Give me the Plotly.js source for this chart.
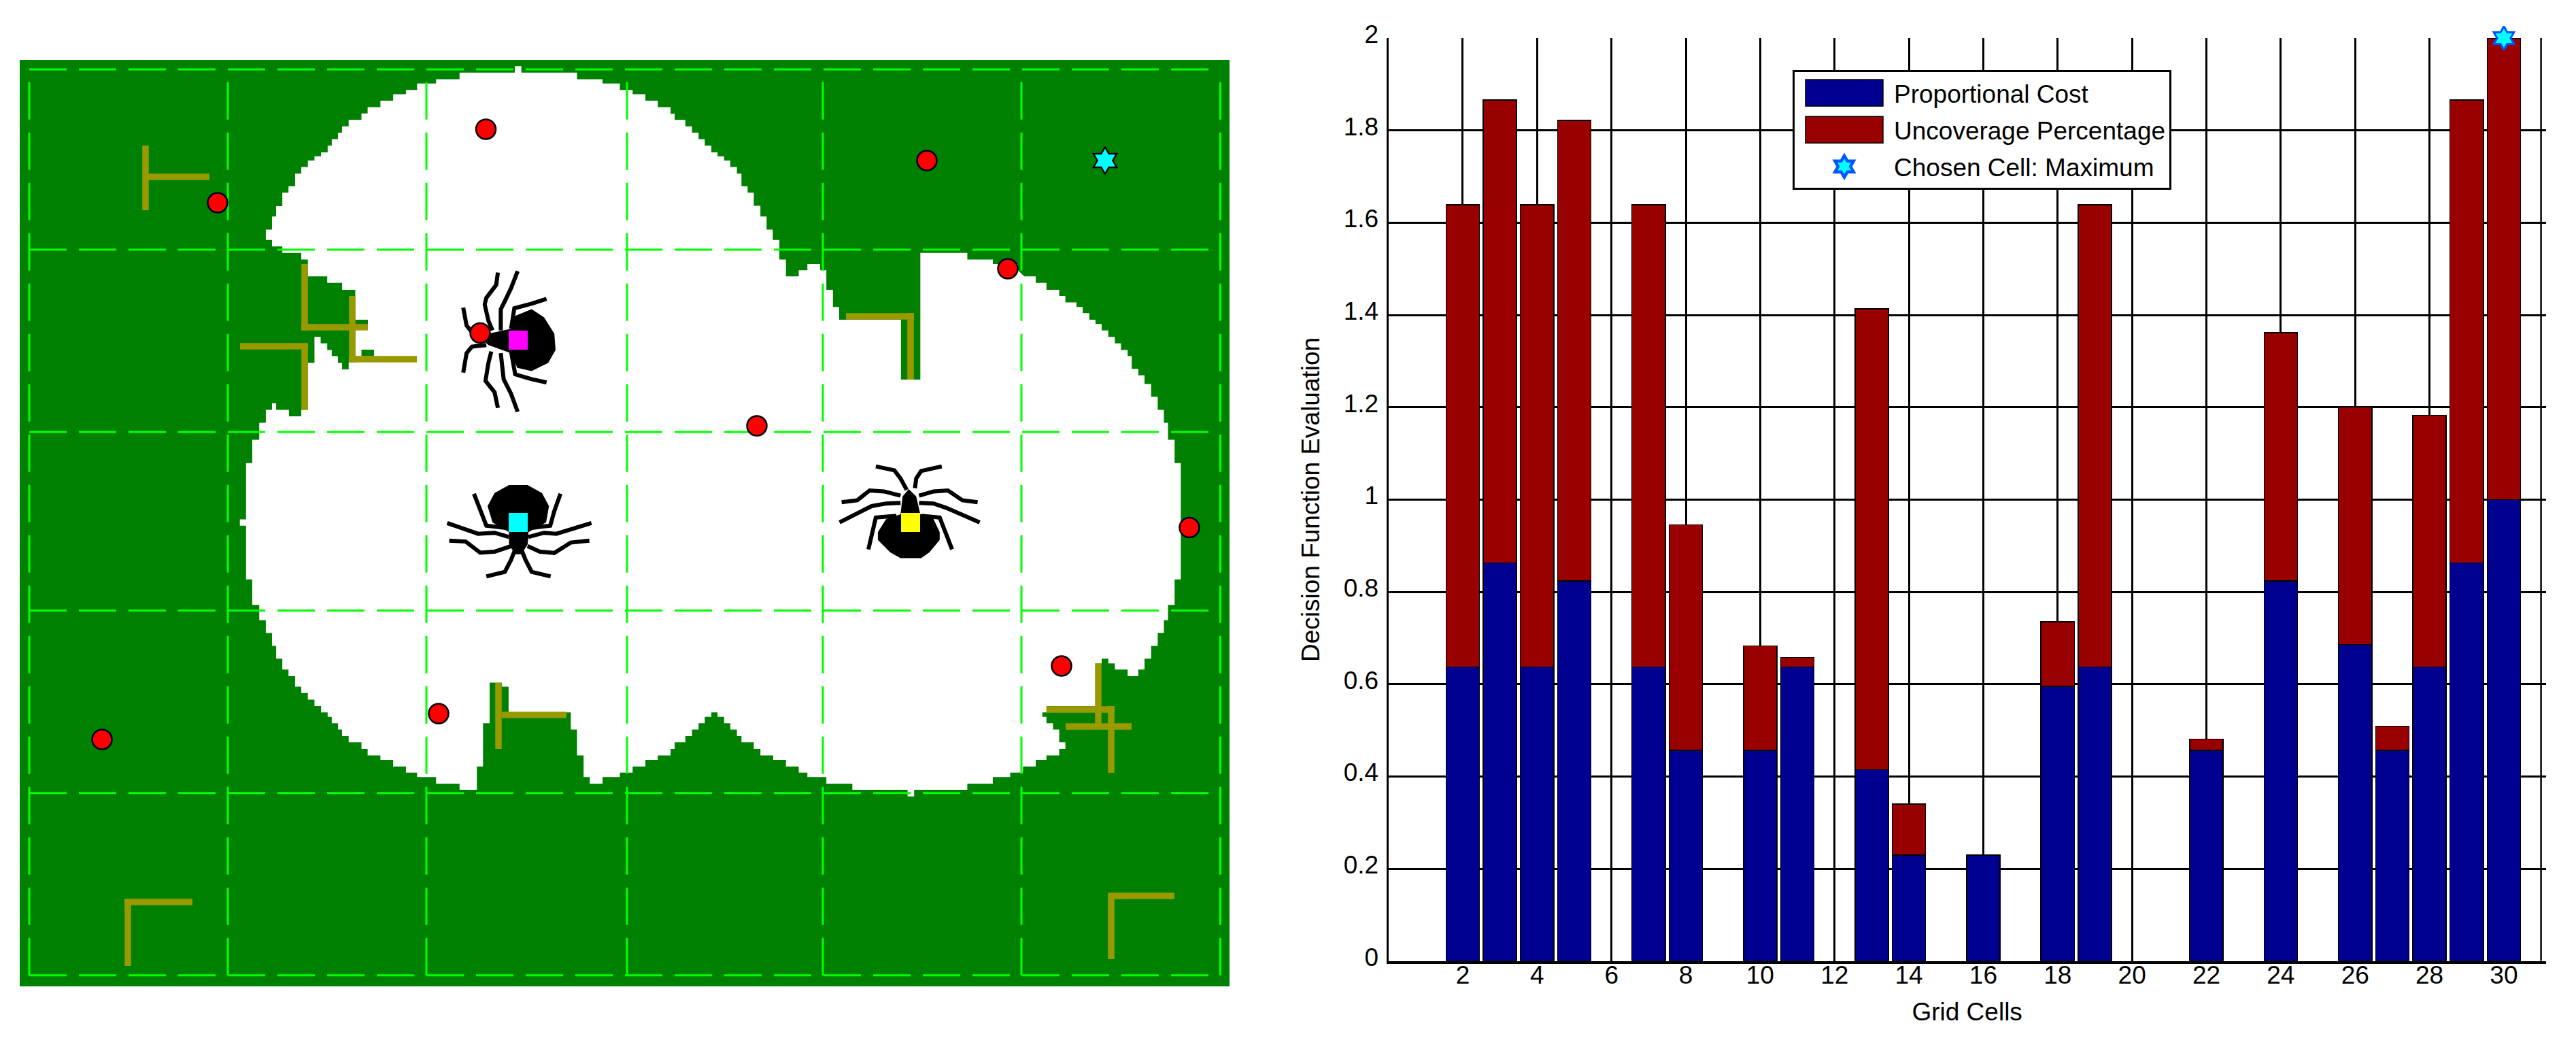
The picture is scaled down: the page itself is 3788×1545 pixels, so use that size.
<!DOCTYPE html>
<html><head><meta charset="utf-8">
<script src="https://cdn.plot.ly/plotly-3.0.1.min.js"></script>
<style>html,body{margin:0;padding:0;background:#fff}#c{width:3788px;height:1545px}</style>
</head><body><div id="c"></div>
<script>
// ---- bar chart data ----
const cells = [2,3,4,5,7,8,10,11,13,14,16,18,19,22,24,26,27,28,29,30];
const proportionalCost = [.637,.863,.637,.824,.637,.457,.457,.637,.415,.23,.23,.595,.637,.457,.824,.686,.457,.637,.863,1];
const uncoverage = [1.002,1.003,1.002,.998,1.002,.488,.226,.021,.998,.11,0,.14,1.002,.024,.538,.514,.052,.546,1.003,1];
const chosenCell = [30], chosenValue = [2];
const xTicks = [2,4,6,8,10,12,14,16,18,20,22,24,26,28,30];
const yTicks = [0,.2,.4,.6,.8,1,1.2,1.4,1.6,1.8,2];
const yTickText = ['0','0.2','0.4','0.6','0.8','1','1.2','1.4','1.6','1.8','2'];

// ---- map data: map units ----
const gridX = [43,335,627,922,1210,1502,1794.5];
const gridY = [102,367,635,897.5,1165.7,1433.8];
const robotsX = [714.5,320,706,1363,1482,1113,1749,150,645,1561];
const robotsY = [190,298,489.5,236,395,626,775.5,1087,1049,979];
const targetX = [1625], targetY = [236];
const magentaX=[762], magentaY=[500], cyanX=[762], cyanY=[768], yellowX=[1339], yellowY=[768];
const wallX = [214,214,null,217,308,null,448,448,null,443,541,null,518,518,null,513,613,null,353,453,null,448,448,null,1244,1344,null,1339,1339,null,733,733,null,738,833,null,188,188,null,183,283,null,1539,1639,null,1634,1634,null,1615,1615,null,1567,1664,null,1634,1634,null,1630,1727];
const wallY = [214,309,null,260,260,null,388,486,null,481,481,null,435,533,null,528,528,null,509,509,null,505,602,null,465,465,null,460,558,null,1004,1101,null,1051,1051,null,1322,1420,null,1326,1326,null,1043,1043,null,1038,1136,null,975,1072,null,1068,1068,null,1313,1410,null,1317,1317];

const coverUL = [645,612,645,580,660,580,660,540,670,540,670,508,685,508,685,467,700,467,700,447,716,447,716,408,731,408,731,388,747,388,747,368,763,368,763,355,779,355,779,343,795,343,795,322,805,322,805,302,820,302,820,282,830,282,830,263,846,263,846,243,877,243,877,223,892,223,892,204,923,204,923,184,954,184,954,164,985,164,985,151,1012,151,1012,131,1058,131,1058,118,1115,118,1115,98,1249,98,1249,78,1265,78,1265,98,1400,98,1400,118,1462,118,1462,131,1504,131,1504,151,1535,151,1535,164,1566,164,1566,184];
const coverUR = [80,184,111,184,111,204,142,204,142,224,152,224,152,243,178,243,178,263,194,263,194,282,210,282,210,302,225,302,225,322,241,322,241,343,256,343,256,355,272,355,272,368,287,368,287,388,303,388,303,408,314,408,314,447,329,447,329,467,344,467,344,507,360,507,360,540,375,540,375,580,390,580,390,612,406,612,406,672,422,672,422,724,453,724,453,705,474,705,474,686,505,686,505,705,520,705,520,765,536,765,536,818,551,818,551,857,701,857,701,1041,748,1041,748,652,862,652,862,672,924,672,924,686,985,686,985,705,1000,724,1028,724,1028,744,1054,744,1054,765,1085,765,1085,784,1100,784,1100,804,1127,804,1127,818,1142,818,1142,837,1158,837,1158,857,1173,857,1173,870,1188,870,1188,890,1204,890,1204,910,1220,910,1220,930,1235,930,1235,950,1251,950,1251,969,1261,969,1261,1008,1277,1008,1277,1028,1292,1028,1292,1055,1308,1055,1308,1094,1324,1094,1324,1134,1339,1134,1339,1174,1349,1174,1349,1226,1365,1226,1365,1298,1380,1298];
const coverLR = [1380,156,1365,156,1365,238,1349,238,1349,287,1339,287,1339,328,1324,328,1324,369,1308,369,1308,410,1292,410,1292,445,1277,445,1277,466,1251,466,1251,445,1220,445,1220,425,1204,425,1204,410,1188,410,1188,425,1173,425,1173,562,1054,562,1054,582,1044,582,1044,596,1054,596,1054,617,1070,617,1070,637,1085,637,1085,678,1100,678,1100,699,1085,699,1085,720,1054,720,1054,734,1028,734,1028,755,997,755,997,775,966,775,966,789,924,789,924,810,862,810,862,830,733,830,733,851,717,851,717,830,583,830,583,810,520,810,520,789,474,789,474,775,453,775,453,755,422,755,422,734,391,734,391,720,360,720,360,699,344,699,344,678,314,678,314,658,303,658,303,637,287,637,287,617,272,617,272,596,256,596,256,582,241,582,241,596,225,596,225,617,210,617,210,637,194,637,194,658,178,658,178,678,152,678,152,699,142,699,142,720,111,720,111,734,81,734];
const coverLL = [1566,755,1535,755,1535,775,1504,775,1504,789,1462,789,1462,810,1431,810,1431,789,1416,789,1416,720,1400,720,1400,637,1385,637,1385,582,1234,582,1234,500,1218,500,1218,487,1188,487,1188,617,1172,617,1172,755,1157,755,1157,830,1115,830,1115,810,1058,810,1058,789,1012,789,1012,775,985,775,985,755,954,755,954,734,923,734,923,720,892,720,892,699,877,699,877,678,846,678,846,658,830,658,830,637,820,637,820,617,805,617,805,596,795,596,795,582,779,582,779,562,763,562,763,541,747,541,747,520,731,520,731,500,716,500,716,466,700,466,700,445,685,445,685,410,670,410,670,369,660,369,660,328,645,328,645,287,629,287,629,238,612,238,612,156,597,156];
const coverUL2 = [597,1490,582,1490,582,1471,597,1471,597,1298,612,1298,612,1226,629,1226,629,1174,645,1174,645,1134,660,1134,660,1114,670,1114,670,1134,701,1134,701,1154,731,1154,731,1134,747,1134,747,990,763,990,763,910,778,910,778,930,794,930,794,950,805,950,805,969,820,969,820,990,830,990,830,1010,846,1010,846,988,862,988,862,765,830,765,830,744,794,744,794,724,747,724,747,672,731,672,731,652,685,652,685,632,660,632,660,612,645,612];
const patchX = [522,541,541,522,522,null,531.5,550,550,531.5,531.5];
const patchY = [470,470,481,481,470,null,514,514,523.5,523.5,514];

const spiderA_body = [1240,885,1250,845,1290,825,1320,850,1345,900,1348,950,1330,990,1290,1015,1255,1005,1240,960,1185,935,1170,918,1185,900,1240,885];
const spiderA_legs = [[1208,712,1204,750,1180,790,1176,810,1185,860,1195,890],[1256,708,1240,760,1225,800,1215,825,1215,890],[1326,793,1290,808,1248,822,1240,885],[1124,820,1132,875,1145,895,1180,900],[1124,1020,1132,960,1145,940,1180,935],[1208,1128,1200,1080,1178,1045,1185,990,1192,955],[1256,1140,1240,1085,1222,1040,1215,960],[1326,1050,1290,1040,1250,1025,1240,955]];
const spiderB_body = [1183,1430,1200,1390,1235,1365,1280,1365,1315,1390,1332,1430,1325,1480,1282,1510,1282,1525,1280,1548,1265,1578,1250,1578,1235,1548,1235,1510,1195,1480,1183,1430];
const spiderB_legs = [[1150,1392,1165,1440,1180,1490,1235,1498],[1360,1392,1345,1445,1335,1490,1282,1498],[1085,1482,1160,1515,1200,1512,1235,1525],[1435,1482,1350,1515,1320,1512,1282,1525],[1090,1536,1130,1539,1165,1573,1200,1570,1240,1553],[1430,1536,1385,1542,1345,1574,1310,1570,1280,1553],[1180,1646,1225,1632,1240,1595,1250,1563],[1336,1646,1290,1632,1275,1595,1265,1563]];
const spiderC_body = [700,1455,705,1400,720,1378,738,1400,748,1455,780,1470,795,1510,795,1534,770,1572,750,1590,700,1590,675,1572,645,1534,645,1510,665,1470,700,1455];
const spiderC_legs = [[640,1308,685,1320,700,1345,715,1380],[800,1308,750,1322,738,1345,735,1375],[557,1418,595,1412,625,1382,660,1385,700,1398],[887,1418,850,1412,815,1382,780,1385,745,1398],[552,1480,630,1430,665,1422,700,1420],[892,1480,810,1435,780,1422,745,1420],[622,1563,640,1465,690,1460],[825,1563,795,1465,750,1460]];

const pxX = X => X/1.65;
const pxYU = Y => 60+Y/2.0907;
const pxYL = Y => 780+Y/2.178;
function pairs(arr, xf, yf){const o=[[],[]];for(let i=0;i<arr.length;i+=2){o[0].push(xf(arr[i]));o[1].push(yf(arr[i+1]));}return o;}
const R = X => (X+1485)/1.65;
const segs = [pairs(coverUL,pxX,pxYU),pairs(coverUR,R,pxYU),pairs(coverLR,R,pxYL),pairs(coverLL,pxX,pxYL),pairs(coverUL2,pxX,pxYU)];
const coverX = segs.flatMap(s=>s[0]), coverY = segs.flatMap(s=>s[1]);

function multi(list, xf){const xs=[],ys=[];list.forEach(l=>{const p=pairs(l,xf,pxYU);xs.push(...p[0],null);ys.push(...p[1],null);});return [xs,ys];}
const bodies = multi([spiderA_body,spiderB_body],pxX), bodyC = multi([spiderC_body],R);
const legsAB = multi([...spiderA_legs,...spiderB_legs],pxX), legsC = multi(spiderC_legs,R);

const hgx=[],hgy=[],vgx=[],vgy=[];
gridY.forEach(y=>{hgx.push(gridX[0],gridX[6],null);hgy.push(y,y,null);});
gridX.forEach(x=>{vgx.push(x,x,null);vgy.push(gridY[5],gridY[0],null);});

const m = {xaxis:'x2',yaxis:'y2',showlegend:false,hoverinfo:'skip'};
const fillT = (x,y,c)=>({...m,type:'scatter',mode:'lines',x,y,fill:'toself',fillcolor:c,line:{width:0,color:c}});
const dots = (x,y,sym,size,c,lw)=>({...m,type:'scatter',mode:'markers',x,y,marker:{symbol:sym,size,color:c,line:{color:'#000',width:lw}}});

const data = [
 {type:'bar',name:'Proportional Cost',legendgroup:'a',x:cells,y:proportionalCost,marker:{color:'#000090',line:{color:'#000',width:1.5}}},
 {type:'bar',name:'Uncoverage Percentage',legendgroup:'b',x:cells,y:uncoverage,marker:{color:'#990000',line:{color:'#000',width:1.5}}},
 {type:'scatter',mode:'markers',name:'Chosen Cell: Maximum',legendgroup:'c',x:chosenCell,y:chosenValue,cliponaxis:false,
  marker:{symbol:'hexagram',size:26,color:'#00ffff',line:{color:'#0055ff',width:3}}},
 fillT([29,1808,1808,29,29],[88,88,1450,1450,88],'#008000'),
 fillT(coverX,coverY,'#ffffff'),
 fillT(patchX,patchY,'#008000'),
 {...m,type:'scatter',mode:'lines',x:hgx,y:hgy,line:{color:'#00ff00',width:3,dash:'55px,18px'}},
 {...m,type:'scatter',mode:'lines',x:vgx,y:vgy,line:{color:'#00ff00',width:3,dash:'55px,19px'}},
 {...m,type:'scatter',mode:'lines',x:wallX,y:wallY,line:{color:'#999900',width:9.5}},
 fillT(bodies[0],bodies[1],'#000000'),
 fillT(bodyC[0],bodyC[1],'#000000'),
 {...m,type:'scatter',mode:'lines',x:legsAB[0],y:legsAB[1],line:{color:'#000',width:6}},
 {...m,type:'scatter',mode:'lines',x:legsC[0],y:legsC[1],line:{color:'#000',width:6}},
 dots(magentaX,magentaY,'square',28,'#ff00ff',0),
 dots(cyanX,cyanY,'square',28,'#00ffff',0),
 dots(yellowX,yellowY,'square',28,'#ffff00',0),
 dots(robotsX,robotsY,'circle',29,'#ff0000',2.5),
 dots(targetX,targetY,'hexagram',30,'#00ffff',2.5)
];

const W=3788,H=1545,font='"Liberation Sans", Arial, sans-serif';
const layout = {
 width:W,height:H,margin:{l:0,r:0,t:0,b:0},paper_bgcolor:'#fff',plot_bgcolor:'rgba(0,0,0,0)',
 barmode:'stack',bargap:0.1,hovermode:false,showlegend:true,font:{family:font,color:'#000',size:37},
 xaxis:{domain:[2041.6/W,3743.7/W],range:[0,31.13],tickvals:xTicks,ticktext:xTicks.map(String),tickmode:'array',showgrid:true,gridcolor:'#000',gridwidth:2.5,
   showline:true,linecolor:'#000',linewidth:3.5,zeroline:false,tickfont:{size:37},ticks:'',ticklabelstandoff:-15,title:{text:'Grid Cells',font:{size:37},standoff:22},anchor:'y'},
 yaxis:{domain:[(H-1412.8)/H,(H-56)/H],range:[0,2],tickvals:yTicks,ticktext:yTickText,tickmode:'array',showgrid:true,gridcolor:'#000',gridwidth:2.5,
   showline:true,linecolor:'#000',linewidth:3,zeroline:false,tickfont:{size:37},ticks:'',ticklabelstandoff:4,ticklabelshift:-6,title:{text:'Decision Function Evaluation',font:{size:37},standoff:24},anchor:'x'},
 xaxis2:{domain:[29/W,1808/W],range:[29,1808],visible:false,anchor:'y2'},
 yaxis2:{domain:[(H-1450)/H,(H-88)/H],range:[1450,88],visible:false,anchor:'x2'},
 legend:{x:2636/W,y:1-103/H,xanchor:'left',yanchor:'top',bgcolor:'#fff',bordercolor:'#000',borderwidth:3,traceorder:'grouped',tracegroupgap:3,
   itemwidth:136,font:{size:37,family:font},itemclick:false,itemdoubleclick:false},
 shapes:[{type:'line',xref:'x',yref:'y',x0:31,x1:31,y0:0,y1:2,line:{color:'#000',width:2.5},layer:'below'}]
};
Plotly.newPlot('c',data,layout,{displayModeBar:false}).then(()=>{
 document.querySelectorAll('.legend .legendpoints path').forEach(p=>{
  if(p.classList.contains('scatterpts')){const t=p.getAttribute('transform')||'';p.setAttribute('transform',t+' scale(1.5)');}
  else {p.setAttribute('d','M57,19.5H-57V-19.5H57Z');}
 });
});
</script></body></html>
